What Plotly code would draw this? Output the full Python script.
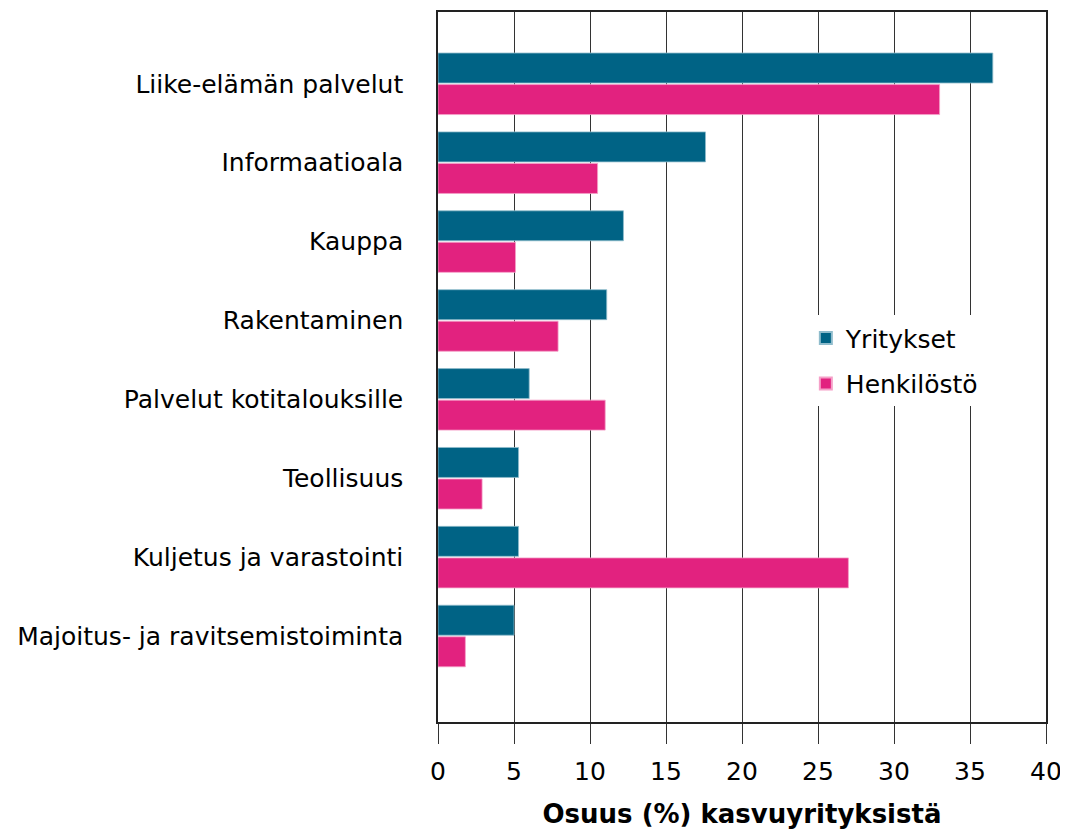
import plotly.graph_objects as go

categories = [
    "Liike-elämän palvelut",
    "Informaatioala",
    "Kauppa",
    "Rakentaminen",
    "Palvelut kotitalouksille",
    "Teollisuus",
    "Kuljetus ja varastointi",
    "Majoitus- ja ravitsemistoiminta",
]
yritykset = [36.5, 17.6, 12.2, 11.1, 6.0, 5.3, 5.3, 5.0]
henkilosto = [33.0, 10.5, 5.1, 7.9, 11.0, 2.9, 27.0, 1.8]
x_ticks = [0, 5, 10, 15, 20, 25, 30, 35, 40]

TEAL = "#006385"
PINK = "#E2227F"
FONT = "DejaVu Sans"
FS = 25

fig = go.Figure()
fig.add_trace(go.Bar(
    y=categories, x=yritykset, orientation="h", name="Yritykset",
    marker=dict(color=TEAL, line=dict(color="#8fbccc", width=0.8)),
    legendgroup="a",
))
fig.add_trace(go.Bar(
    y=categories, x=henkilosto, orientation="h", name="Henkilöstö",
    marker=dict(color=PINK, line=dict(color="#f5a0c8", width=0.8)),
    legendgroup="b",
))

fig.update_layout(
    width=1060, height=822,
    margin=dict(l=430, r=22, t=2, b=108),
    paper_bgcolor="white", plot_bgcolor="white",
    barmode="group", bargap=0.2, bargroupgap=0.05,
    font=dict(family=FONT, size=FS, color="black"),
    legend=dict(
        x=0.605, y=0.573, xanchor="left", yanchor="top",
        bgcolor="white", font=dict(size=FS),
        traceorder="grouped", tracegroupgap=10,
        itemsizing="constant",
    ),
    xaxis=dict(
        range=[0, 40], tickvals=x_ticks, ticktext=[str(v) for v in x_ticks],
        showgrid=True, gridcolor="#333", gridwidth=1.2,
        showline=True, linecolor="#222", linewidth=1.5, mirror=True,
        ticks="outside", ticklen=20, tickcolor="#333", tickwidth=1.2,
        tickfont=dict(size=FS), ticklabelstandoff=6,
        zeroline=False,
        title=dict(text="<b>Osuus (%) kasvuyrityksistä</b>", font=dict(size=26), standoff=20),
    ),
    yaxis=dict(
        type="category", categoryorder="array", categoryarray=categories,
        range=[8.09, -0.91],
        showline=True, linecolor="#222", linewidth=1.5, mirror=True,
        showgrid=False, ticks="", ticklabelstandoff=28,
        tickfont=dict(size=FS),
    ),
)

fig.write_html("out.html")
